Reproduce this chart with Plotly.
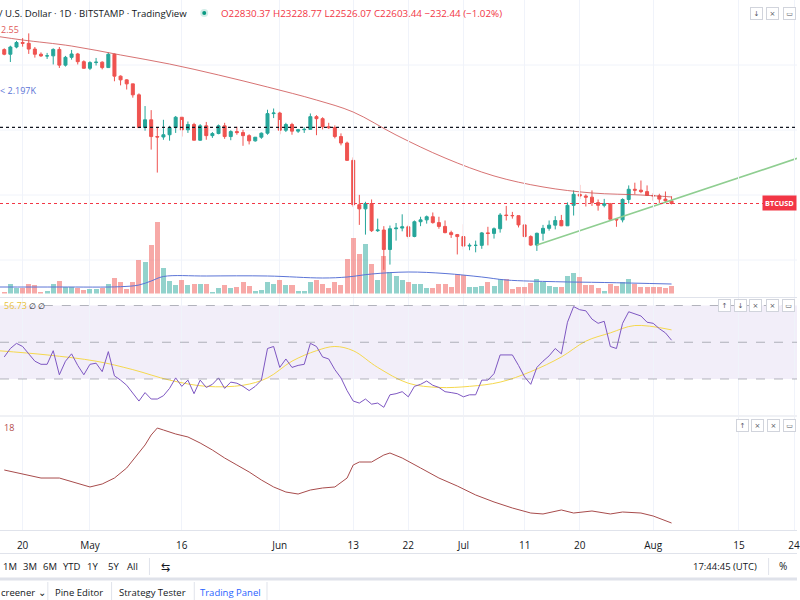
import plotly.graph_objects as go
import pandas as pd
import math

W, H = 800, 600
FONT = "Open Sans"

# ---------------- data ----------------
dates = pd.date_range("2022-04-17", "2022-08-04", freq="D")

open_ = [40400, 39700, 40800, 41500, 41370, 40480, 39700, 39450, 39460, 40430, 38100, 39240, 39740, 38600,
         37650, 38470, 38530, 37750, 39700, 36550, 36040, 35500, 34060, 30100, 31000, 29100, 29050, 29300, 30100, 31300,
         29850, 30450, 28700, 30300, 29200, 29430, 30300, 29100, 29650, 29540, 29200, 28630, 29030, 29470, 31730,
         31800, 29800, 30450, 29700, 29860, 29900, 31370, 31130, 30200, 30100, 29100, 28400, 26600, 22500, 22150,
         22600, 20400, 20450, 19000, 20550, 20600, 20700, 19960, 21100, 21250, 21500, 21030, 20730, 20250, 20100,
         19950, 19250, 19300, 19300, 20230, 20190, 20550, 21640, 21600, 21590, 20850, 19950, 19320, 20200, 20580,
         20830, 21200, 20780, 22450, 23400, 23250, 23150, 22680, 22450, 22580, 21300, 21250, 22950, 23850, 23770,
         23640, 23300, 23270, 22980, 22830.37]
high = [40600, 41000, 41750, 42200, 42950, 40800, 39980, 39900, 40600, 40800, 39450, 40350, 39900, 38800,
        38670, 39150, 38650, 39950, 39800, 36650, 36120, 35500, 34250, 32650, 32150, 30100, 31000, 30300, 31450, 31300,
        30800, 30650, 30500, 30750, 29600, 30450, 30650, 29800, 30200, 29850, 29350, 29050, 29550, 32200, 32350,
        31950, 30650, 30650, 29950, 30150, 31750, 31550, 31300, 30650, 30350, 29450, 28550, 26900, 23350, 22750,
        22950, 21350, 20750, 20800, 21000, 21700, 20850, 21200, 21500, 21600, 21850, 21500, 21200, 20400, 20150,
        20900, 19450, 19650, 20300, 20700, 20650, 21800, 22400, 21900, 21600, 20880, 20050, 20250, 20850, 21200,
        21550, 21650, 22700, 23750, 24250, 23400, 23750, 22950, 23000, 22650, 21350, 23050, 24200, 24450, 24650,
        24200, 23500, 23450, 23650, 23228.77]
low = [39550, 38550, 40600, 40850, 39750, 39200, 39300, 39000, 38200, 37700, 37900, 38900, 38200, 37600,
       37400, 38050, 37500, 37700, 35850, 35300, 34750, 33700, 30050, 29750, 27700, 25400, 28750, 28650, 29500, 29100,
       29500, 28700, 28650, 28750, 28950, 29350, 28850, 28700, 29300, 28100, 28250, 28550, 28850, 29300, 31200,
       29350, 29600, 29300, 29500, 29500, 29880, 29250, 29900, 29950, 28900, 28150, 26550, 22300, 20850, 20100,
       20300, 20300, 17600, 17950, 19650, 20350, 19800, 19900, 20750, 20950, 20950, 20550, 20200, 19850, 18650,
       19000, 18950, 18800, 19050, 19300, 19800, 20250, 21200, 21350, 20650, 19900, 19250, 18900, 19650, 20400,
       20500, 20750, 20770, 21600, 23000, 22350, 22400, 22000, 22280, 21250, 20700, 21050, 22600, 23400, 23500,
       23250, 22850, 22650, 22700, 22526.07]
close = [39700, 40800, 41500, 41370, 40480, 39700, 39450, 39460, 40430, 38100, 39240, 39740, 38600, 37650,
         38470, 38530, 37750, 39700, 36550, 36040, 35500, 34060, 30100, 31000, 29100, 29050, 29300, 30100, 31300, 29850,
         30450, 28700, 30300, 29200, 29430, 30300, 29100, 29650, 29540, 29200, 28630, 29030, 29470, 31730, 31800,
         29800, 30450, 29700, 29860, 29900, 31370, 31130, 30200, 30100, 29100, 28400, 26600, 22500, 22150, 22600,
         20400, 20450, 19000, 20550, 20600, 20700, 19960, 21100, 21250, 21500, 21030, 20730, 20250, 20100, 19950,
         19250, 19300, 19300, 20230, 20190, 20550, 21640, 21600, 21590, 20850, 19950, 19320, 20200, 20580, 20830,
         21200, 20780, 22450, 23400, 23250, 23150, 22680, 22450, 22580, 21300, 21250, 22950, 23850, 23770, 23640,
         23300, 23270, 22980, 22835.88, 22603.44]
volume = [450, 3000, 1800, 1800, 2790, 2490, 540, 690, 2790, 3690, 1980, 1980, 1800, 990,
          1500, 1500, 1800, 2790, 4680, 3480, 1500, 3480, 9990, 9600, 14490, 21480, 7800, 3780, 2490, 3990,
          2490, 3000, 3000, 2790, 480, 1680, 2700, 1800, 1980, 3480, 2400, 900, 1200, 3600, 3000,
          4200, 2700, 2700, 900, 900, 3600, 4200, 3000, 1800, 3600, 2700, 10500, 16800, 12000, 15000,
          9000, 4200, 11400, 6600, 5400, 4200, 3600, 3000, 3000, 1800, 1800, 3000, 3000, 2040, 5850,
          5550, 1860, 1860, 2250, 3540, 2250, 4260, 4260, 1350, 1950, 2040, 3150, 4260, 3540, 2250,
          2040, 2040, 5250, 6060, 5040, 2550, 2550, 1560, 840, 2850, 2250, 3540, 4260, 2850, 2040,
          2040, 1860, 1860, 1560, 2197]
rsi = [42.0, 46.6, 49.4, 47.7, 43.7, 39.7, 38.0, 38.0, 45.4, 32.3, 39.7, 43.7, 37.4, 32.3,
       38.0, 38.6, 34.0, 44.9, 31.7, 29.4, 26.6, 22.6, 18.0, 22.6, 19.1, 19.1, 20.9, 24.9, 30.6, 26.0,
       29.4, 22.0, 29.4, 25.4, 27.1, 30.6, 24.9, 28.3, 27.7, 26.0, 23.7, 26.0, 29.4, 46.6, 47.7,
       36.3, 40.9, 36.3, 37.4, 38.0, 49.4, 47.7, 42.0, 40.9, 35.1, 30.6, 23.7, 18.0, 16.9, 19.1,
       16.3, 16.9, 14.6, 21.4, 22.0, 23.1, 20.3, 26.0, 27.1, 28.9, 26.6, 25.4, 23.1, 22.6, 22.0,
       20.3, 21.4, 21.4, 29.4, 29.4, 32.9, 43.1, 43.1, 43.1, 37.4, 31.1, 27.1, 36.3, 39.7, 42.6,
       46.6, 43.7, 60.9, 69.4, 67.7, 67.1, 62.6, 60.3, 61.4, 47.7, 46.6, 60.3, 66.6, 65.4, 64.3,
       60.9, 60.3, 57.4, 55.1, 51.1]

ma_dates = ["2022-04-16", "2022-04-20", "2022-04-28", "2022-05-06", "2022-05-14", "2022-05-22", "2022-05-30",
            "2022-06-07", "2022-06-13", "2022-06-20", "2022-06-28", "2022-07-06", "2022-07-14", "2022-07-22",
            "2022-07-30", "2022-08-04"]
ma_vals = [42450, 41890, 40950, 39590, 38260, 36710, 35080, 33400, 31920, 29270, 26840, 25080, 24060, 23520,
           23340, 23170]

volma_dates = ["2022-04-16", "2022-04-26", "2022-05-06", "2022-05-09", "2022-05-11", "2022-05-13", "2022-05-20",
               "2022-05-30", "2022-06-08", "2022-06-12", "2022-06-16", "2022-06-22", "2022-06-28", "2022-07-04",
               "2022-07-08", "2022-07-16", "2022-07-24", "2022-08-04"]
volma_vals = [1950, 1950, 2040, 2550, 3750, 5100, 5250, 5250, 4650, 4950, 5850, 6450, 6000, 4950, 4050, 3540,
              3300, 2850]

rsima_dates = ["2022-04-16", "2022-04-24", "2022-05-02", "2022-05-08", "2022-05-14", "2022-05-20", "2022-05-26",
               "2022-05-30", "2022-06-03", "2022-06-07", "2022-06-10", "2022-06-13", "2022-06-17", "2022-06-22",
               "2022-06-27", "2022-07-02", "2022-07-07", "2022-07-12", "2022-07-17", "2022-07-21", "2022-07-25",
               "2022-07-29", "2022-08-04"]
rsima_vals = [45.4, 43.1, 39.7, 35.1, 29.4, 26.0, 26.6, 30.6, 39.7, 45.4, 47.7, 45.4, 36.3, 27.7, 25.4, 26.0,
              28.3, 34.0, 42.0, 50.6, 55.1, 59.1, 56.73]

atr_dates = ["2022-04-17", "2022-04-20", "2022-04-23", "2022-04-26", "2022-04-29", "2022-05-01", "2022-05-03",
             "2022-05-05", "2022-05-07", "2022-05-09", "2022-05-10", "2022-05-11", "2022-05-12", "2022-05-13",
             "2022-05-15", "2022-05-17", "2022-05-19", "2022-05-21", "2022-05-23", "2022-05-25", "2022-05-27",
             "2022-05-29", "2022-05-31", "2022-06-02", "2022-06-04", "2022-06-06", "2022-06-08", "2022-06-10",
             "2022-06-12", "2022-06-13", "2022-06-14", "2022-06-16", "2022-06-18", "2022-06-19", "2022-06-21",
             "2022-06-24", "2022-06-27", "2022-06-30", "2022-07-03", "2022-07-06", "2022-07-09", "2022-07-12",
             "2022-07-14", "2022-07-17", "2022-07-19", "2022-07-22", "2022-07-25", "2022-07-27", "2022-07-30",
             "2022-08-01", "2022-08-04"]
atr_vals = [1781, 1722, 1663, 1663, 1590, 1531, 1575, 1663, 1811, 2047, 2150, 2297, 2400, 2371, 2312, 2268,
            2179, 2076, 1958, 1855, 1752, 1634, 1531, 1457, 1427, 1486, 1516, 1531, 1663, 1855, 1899, 1899, 2002,
            2032, 1958, 1811, 1663, 1545, 1413, 1310, 1221, 1147, 1133, 1192, 1147, 1177, 1133, 1162, 1147, 1103,
            1000]

hline_level = 30130
trend_dates = ["2022-07-13", "2022-08-24 12:00"]
trend_vals = [19330, 26800]

tick_dates = ["2022-04-20", "2022-05-01", "2022-05-16", "2022-06-01", "2022-06-13", "2022-06-22", "2022-07-01",
              "2022-07-11", "2022-07-20", "2022-08-01", "2022-08-15", "2022-08-24"]
tick_text = ["20", "May", "16", "Jun", "13", "22", "Jul", "11", "20", "Aug", "15", "24"]

assert len(open_) == len(high) == len(low) == len(close) == len(volume) == len(rsi) == len(dates)

# ---------------- helpers ----------------
def X(px):
    return px / W

def Y(py):
    return 1 - py / H

UP, DN = "#26a69a", "#ef5350"
GRID = "#f0f3fa"
SEP = "#e0e3eb"
TXT = "#131722"
CLEAR = "rgba(0,0,0,0)"

x_range = ["2022-04-16 07:20", "2022-08-24 11:45"]

fig = go.Figure()

vol_colors = ["rgba(38,166,154,0.5)" if c >= o else "rgba(239,83,80,0.5)" for o, c in zip(open_, close)]
fig.add_trace(go.Bar(x=dates, y=volume, marker=dict(color=vol_colors, line_width=0),
                     width=0.82 * 86400000, xaxis="x", yaxis="y2"))
fig.add_trace(go.Scatter(x=volma_dates, y=volma_vals, mode="lines", line=dict(color="#5b74d6", width=1, shape="spline"),
                         xaxis="x", yaxis="y2"))
fig.add_trace(go.Candlestick(x=dates, open=open_, high=high, low=low, close=close,
                             increasing=dict(line=dict(color=UP, width=1), fillcolor=UP),
                             decreasing=dict(line=dict(color=DN, width=1), fillcolor=DN),
                             whiskerwidth=0, xaxis="x", yaxis="y"))
fig.add_trace(go.Scatter(x=ma_dates, y=ma_vals, mode="lines",
                         line=dict(color="rgba(205,80,80,0.8)", width=1, shape="spline"), xaxis="x", yaxis="y"))
fig.add_trace(go.Scatter(x=trend_dates, y=trend_vals, mode="lines", line=dict(color="#8fce91", width=1.6),
                         xaxis="x", yaxis="y"))

# RSI
fig.add_trace(go.Scatter(x=rsima_dates, y=rsima_vals, mode="lines",
                         line=dict(color="#f5d84e", width=1, shape="spline"), xaxis="x2", yaxis="y3"))
fig.add_trace(go.Scatter(x=dates, y=rsi, mode="lines", line=dict(color="#7e57c2", width=1), xaxis="x2", yaxis="y3"))

# third pane
fig.add_trace(go.Scatter(x=atr_dates, y=atr_vals, mode="lines", line=dict(color="#a84c4c", width=1),
                         xaxis="x3", yaxis="y4"))

# ---------------- axes ----------------
k_dec = 265 * math.log(10)  # px per decade
top_log = math.log10(close[-1]) + 203.5 / k_dec
bot_log = top_log - 297 / k_dec

common_x = dict(range=x_range, tickvals=tick_dates, ticktext=tick_text, showgrid=True, gridcolor=GRID,
                gridwidth=1, zeroline=False, showline=False, ticks="", fixedrange=True)

rsi_top = 50 + (342.25 - 298) / 1.8375
rsi_bot = 50 - (415 - 342.25) / 1.8375
atr_top = 1000 + (523 - 417) * 14.74
atr_bot = 1000 + (523 - 530) * 14.74

fig.update_layout(
    width=W, height=H, margin=dict(l=0, r=0, t=0, b=0),
    paper_bgcolor="white", plot_bgcolor=CLEAR, showlegend=False,
    font=dict(family=FONT, color=TXT, size=10),
    bargap=0,
    xaxis=dict(domain=[0, 1], anchor="y", showticklabels=False, rangeslider=dict(visible=False), **common_x),
    xaxis2=dict(domain=[0, 1], anchor="y3", showticklabels=False, **common_x),
    xaxis3=dict(domain=[0, 1], anchor="y4", showticklabels=True, ticklabelstandoff=8, ticklabeloverflow="allow",
                tickfont=dict(size=10, color=TXT, family=FONT), **common_x),
    yaxis=dict(domain=[Y(297), 1], type="log", range=[bot_log, top_log], showticklabels=False, showgrid=False,
               zeroline=False, fixedrange=True),
    yaxis2=dict(domain=[Y(293.5), Y(120)], anchor="x", range=[0, 173.5 * 300], showticklabels=False,
                showgrid=False, zeroline=False, fixedrange=True),
    yaxis3=dict(domain=[Y(415), Y(298)], anchor="x2", range=[rsi_bot, rsi_top], showticklabels=False,
                showgrid=False, zeroline=False, fixedrange=True),
    yaxis4=dict(domain=[Y(530), Y(417)], anchor="x3", range=[atr_bot, atr_top], showticklabels=False,
                showgrid=False, zeroline=False, fixedrange=True),
)

shapes = []
# horizontal grid in main pane
for gy in [65, 130, 195, 260]:
    shapes.append(dict(type="line", xref="paper", yref="paper", x0=0, x1=1, y0=Y(gy), y1=Y(gy),
                       line=dict(color=GRID, width=1), layer="below"))
# horizontal dotted lines
shapes.append(dict(type="line", xref="paper", yref="y", x0=0, x1=1, y0=hline_level, y1=hline_level,
                   line=dict(color=TXT, width=1.3, dash="dot")))
shapes.append(dict(type="line", xref="paper", yref="y", x0=0, x1=1, y0=close[-1], y1=close[-1],
                   line=dict(color="#f23645", width=1, dash="dot")))
# RSI band and levels
shapes.append(dict(type="rect", xref="paper", yref="y3", x0=0, x1=1, y0=30, y1=70,
                   fillcolor="rgba(126,87,194,0.10)", line=dict(width=0), layer="below"))
shapes.append(dict(type="line", xref="paper", yref="y3", x0=X(44), x1=1, y0=70, y1=70,
                   line=dict(color="rgba(120,123,134,0.55)", width=1, dash="dash")))
for lv in [50, 30]:
    shapes.append(dict(type="line", xref="paper", yref="y3", x0=0, x1=1, y0=lv, y1=lv,
                       line=dict(color="rgba(120,123,134,0.55)", width=1, dash="dash")))
# pane separators
for sy in [297.5, 416, 530.5, 553.5]:
    shapes.append(dict(type="line", xref="paper", yref="paper", x0=0, x1=1, y0=Y(sy), y1=Y(sy),
                       line=dict(color=SEP, width=1)))
shapes.append(dict(type="line", xref="paper", yref="paper", x0=0, x1=1, y0=Y(579), y1=Y(579),
                   line=dict(color="#dfe2ea", width=3)))
# toolbar vertical separators
for vx, y0, y1 in [(150, 558, 575), (771.5, 558, 575), (48, 582, 600), (112, 582, 600), (195, 582, 600),
                   (268, 582, 600)]:
    shapes.append(dict(type="line", xref="paper", yref="paper", x0=X(vx), x1=X(vx), y0=Y(y0), y1=Y(y1),
                       line=dict(color=SEP, width=1)))
# green status dot
shapes.append(dict(type="circle", xref="paper", yref="paper", x0=X(201), x1=X(209), y0=Y(17), y1=Y(9),
                   fillcolor="rgba(8,153,129,0.18)", line=dict(width=0)))
shapes.append(dict(type="circle", xref="paper", yref="paper", x0=X(203), x1=X(207), y0=Y(15), y1=Y(11),
                   fillcolor="#089981", line=dict(width=0)))
fig.update_layout(shapes=shapes)

ann = []

def text(px, py, s, color=TXT, size=10, xanchor="left", **kw):
    ann.append(dict(x=X(px), y=Y(py), xref="paper", yref="paper", text=s, showarrow=False,
                    xanchor=xanchor, yanchor="middle", font=dict(family=FONT, size=size, color=color), **kw))

chg = close[-1] - close[-2]
pct = chg / close[-2] * 100
text(-3, 13, "/ U.S. Dollar · 1D · BITSTAMP · TradingView", size=9.6)
text(220, 13, f"O{open_[-1]:.2f} H{high[-1]:.2f} L{low[-1]:.2f} C{close[-1]:.2f} "
              f"−{abs(chg):.2f} (−{abs(pct):.2f}%)", color="#f23645", size=9.8)
text(-1, 29, "2.55", color="#e05a5a", size=9)
text(-2, 91, f"< {volume[-1]/1000:.3f}K", color="#5b74d6", size=9)
text(2, 305, f"{rsima_vals[-1]:.2f}", color="#e8c13a", size=9)
text(27, 305, "∅ ∅", color=TXT, size=8)
text(2, 427, "18", color="#b24a4a", size=9)

# BTCUSD label
ann.append(dict(x=X(782), y=Y(203.5), xref="paper", yref="paper", text="<b>BTCUSD</b>", showarrow=False,
                xanchor="center", yanchor="middle", font=dict(family=FONT, size=7.3, color="white"),
                bgcolor="#f23645", borderpad=2))

def button(px, py, glyph):
    ann.append(dict(x=X(px), y=Y(py), xref="paper", yref="paper", text=glyph, showarrow=False,
                    xanchor="center", yanchor="middle", font=dict(family="DejaVu Sans", size=7, color="#50535e"),
                    bgcolor="white", bordercolor="#d1d4dc", borderwidth=1, borderpad=1, width=9, height=9))

for bx, g in [(759, "↓"), (775, "×"), (792, "▭")]:
    button(bx, 13, g)
for bx, g in [(727, "↑"), (743, "↓"), (758, "×"), (775, "×"), (791, "▭")]:
    button(bx, 305, g)
for bx, g in [(745, "↑"), (760, "×"), (776, "×"), (792, "▭")]:
    button(bx, 425, g)

# bottom toolbar
for cx, s in [(10, "1M"), (30, "3M"), (50, "6M"), (72.5, "YTD"), (93, "1Y"), (113.5, "5Y"), (133, "All")]:
    text(cx, 566, s, size=9.5, xanchor="center")
text(166, 566, "⇆", size=11, xanchor="center")
text(728, 566, "17:44:45 (UTC)", size=9.5, xanchor="center")
text(786, 566, "%", size=10, xanchor="center")
# tabs
text(-1, 592, "creener ⌄", size=9.5)
text(79, 592, "Pine Editor", size=9.5, xanchor="center")
text(153, 592, "Strategy Tester", size=9.5, xanchor="center")
text(231.5, 592, "Trading Panel", size=9.5, xanchor="center", color="#2962ff")

fig.update_layout(annotations=ann)

fig.write_html("out.html", config={"displayModeBar": False},
               post_script="document.body.style.margin='0';document.body.style.overflow='hidden';")
